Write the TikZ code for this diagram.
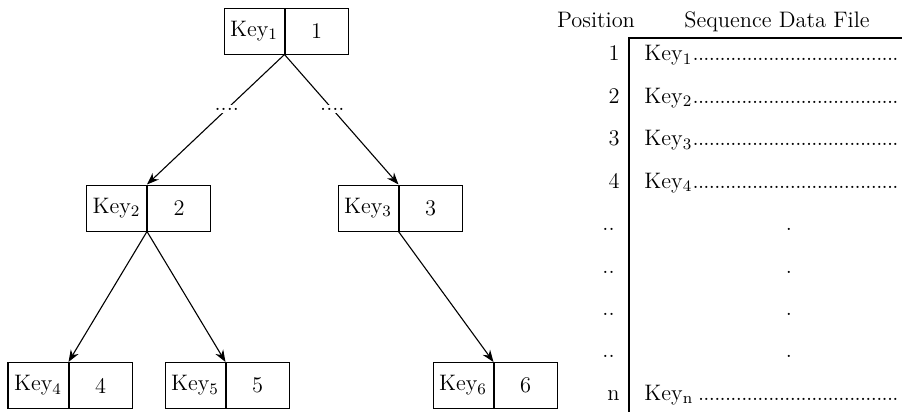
\documentclass[tikz,border=0pt]{standalone}
\usetikzlibrary{arrows.meta}
\newcommand{\keydots}{\leaders\hbox to 2.7pt{\hss.\hss}\hfill\kern0pt}
\begin{document}
\begin{tikzpicture}[x=0.5pt, y=-0.5pt,
                font=\fontsize{11.2}{14}\selectfont,
                keybox/.style={draw, line width=0.5pt, minimum width=30pt, minimum height=23pt, inner sep=0pt},
                valbox/.style={draw, line width=0.5pt, minimum width=31.5pt, minimum height=23pt, inner sep=0pt, anchor=west},
                link/.style={-{Stealth[length=6pt, width=4.5pt]}, line width=0.55pt},
                dotgap/.style={fill=white, inner sep=1.5pt, pos=0.42},
                posnum/.style={anchor=base east, inner sep=0pt},
                recline/.style={anchor=base west, text width=129pt, inner sep=0pt}
            ]
            \useasboundingbox (0,0) rectangle (902,412);

            % Left diagram - tree of keys
            \node[keybox] (k1) at (254,31) {Key$_1$};
            \node[valbox] (v1) at (k1.east) {1};
            \node[keybox] (k2) at (116.5,208) {Key$_2$};
            \node[valbox] (v2) at (k2.east) {2};
            \node[keybox] (k3) at (368,208) {Key$_3$};
            \node[valbox] (v3) at (k3.east) {3};
            \node[keybox] (k4) at (38,385.5) {Key$_4$};
            \node[valbox] (v4) at (k4.east) {4};
            \node[keybox] (k5) at (195,385.5) {Key$_5$};
            \node[valbox] (v5) at (k5.east) {5};
            \node[keybox] (k6) at (463,385.5) {Key$_6$};
            \node[valbox] (v6) at (k6.east) {6};
            \draw[link] (k1.south east) -- node[dotgap] {....} (k2.north east);
            \draw[link] (k1.south east) -- node[dotgap] {....} (k3.north east);
            \draw[link] (k2.south east) -- (k4.north east);
            \draw[link] (k2.south east) -- (k5.north east);
            \draw[link] (k3.south east) -- (k6.north east);

            % Right diagram - sequence data file
            \node[anchor=base] (posh) at (596,27) {Position};
            \node[anchor=base] (seqh) at (777,27) {Sequence Data File};
            \coordinate (corner) at (629,38);
            \draw[line width=0.55pt] (902,38) -- (corner) -- (629,412);
            \foreach \i/\y in {1/61,2/103.4,3/145.8,4/188.2} {
                \node[posnum] (p\i) at (620,\y) {\i};
                \node[recline] (r\i) at (644,\y) {Key$_{\i}$\keydots};
            }
            \foreach \i/\y in {5/230.6,6/273,7/315.4,8/357.8} {
                \node[posnum] (p\i) at (615,\y) {..};
                \node[anchor=base, inner sep=0pt] (d\i) at (789,\y) {.};
            }
            \node[posnum] (pn) at (620,400.2) {n};
            \node[recline] (rn) at (644,400.2) {Key$_{\mathrm{n}}$\keydots};
            \end{tikzpicture}
\end{document}
